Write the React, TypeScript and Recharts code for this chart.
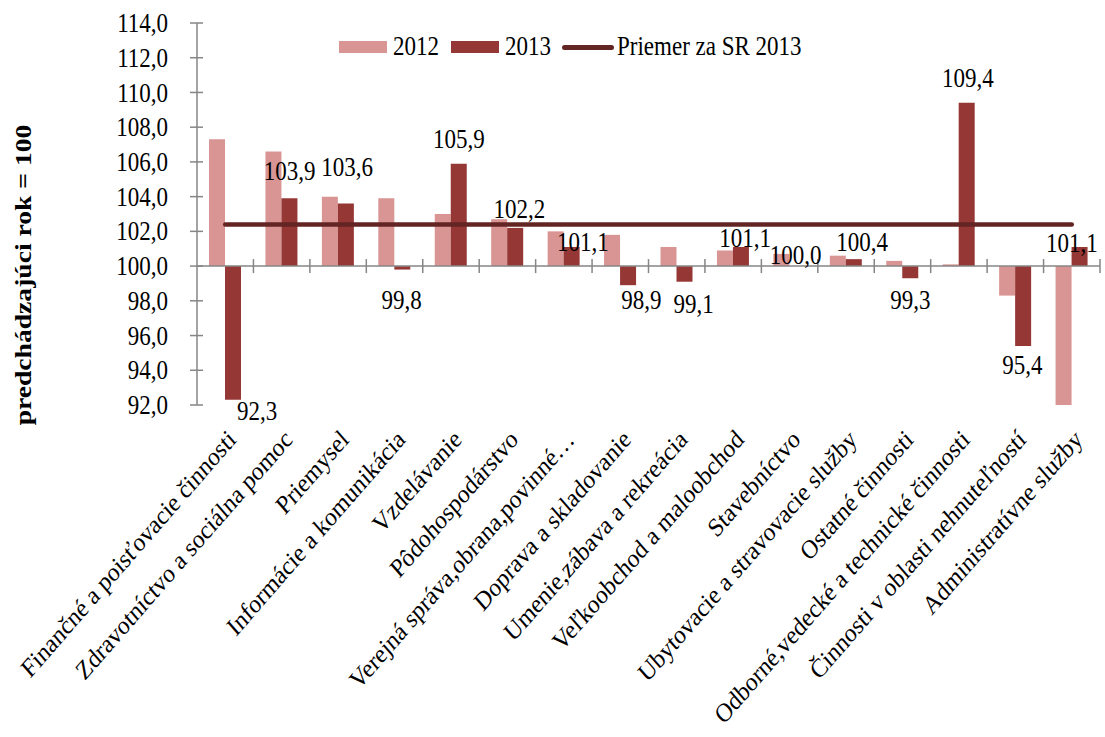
import React from 'react';
import {
  ComposedChart,
  Bar,
  Line,
  XAxis,
  YAxis,
  ReferenceLine,
  Legend,
  LabelList,
} from 'recharts';

const CATEGORIES = [
  'Finančné a poisťovacie činnosti',
  'Zdravotníctvo a sociálna pomoc',
  'Priemysel',
  'Informácie a komunikácia',
  'Vzdelávanie',
  'Pôdohospodárstvo',
  'Verejná správa,obrana,povinné…',
  'Doprava a skladovanie',
  'Umenie,zábava a rekreácia',
  'Veľkoobchod a maloobchod',
  'Stavebníctvo',
  'Ubytovacie a stravovacie služby',
  'Ostatné činnosti',
  'Odborné,vedecké a technické činnosti',
  'Činnosti v oblasti nehnuteľností',
  'Administratívne služby',
];

const VALUES_2012 = [
  107.3, 106.6, 104.0, 103.9, 103.0, 102.7, 102.0, 101.8, 101.1, 100.9, 100.7, 100.6, 100.3, 100.1,
  98.3, 91.9,
];

const VALUES_2013 = [
  92.3, 103.9, 103.6, 99.8, 105.9, 102.2, 101.1, 98.9, 99.1, 101.1, 100.0, 100.4, 99.3, 109.4, 95.4,
  101.1,
];

const PRIEMER_SR_2013 = [
  102.4, 102.4, 102.4, 102.4, 102.4, 102.4, 102.4, 102.4, 102.4, 102.4, 102.4, 102.4, 102.4, 102.4,
  102.4, 102.4,
];

const Y_TICKS = [92, 94, 96, 98, 100, 102, 104, 106, 108, 110, 112, 114];

// predchádzajúci rok = 100, bars start from here
const BASE = 100;

// hand placed data labels in the original (dx, dy)
const LABEL_NUDGES: [number, number][] = [
  [24, -9],
  [0, -7],
  [1, -17],
  [-1, 10],
  [0, -5],
  [4, 1],
  [11, 15],
  [13, -5],
  [9, 2],
  [4, 11],
  [-2, 9],
  [8, 3],
  [0, 2],
  [1, -5],
  [-1, -1],
  [-8, 16],
];

const FONT = '"Liberation Serif", "Times New Roman", serif';
const C2012 = '#D99594';
const C2013 = '#953735';
const CAVG = '#632523';
const AXIS_GRAY = '#868686';

const BAR_SIZE = 16;
const Y_TICK_SIZE = 7;
const Y_TICK_MARGIN = 22;
// the source picture is a little taller than the original chart, text looks stretched
const SY = 1.15;

const fmt = (v: number) => v.toFixed(1).replace('.', ',');
const place = (x: number, y: number, angle = 0) =>
  `translate(${x}, ${y}) scale(1, ${SY}) rotate(${angle})`;

const chartData = CATEGORIES.map((name, i) => ({
  name,
  y2012: [BASE, VALUES_2012[i]],
  y2013: [BASE, VALUES_2013[i]],
  v2013: VALUES_2013[i],
  priemer: PRIEMER_SR_2013[i],
}));

function YTick(props: any) {
  const { x, y, payload } = props;
  const axisX = x + Y_TICK_SIZE + Y_TICK_MARGIN;
  return (
    <g>
      <line x1={axisX - 7} x2={axisX + 6} y1={y} y2={y} stroke={AXIS_GRAY} strokeWidth={1.5} />
      <text
        transform={place(x, y)}
        textAnchor="end"
        dominantBaseline="central"
        fontFamily={FONT}
        fontSize={23}
        fill="#000"
      >
        {fmt(payload.value)}
      </text>
    </g>
  );
}

function XTick(props: any) {
  const { x, y, payload } = props;
  return (
    <text
      transform={place(x + 12, y + 36, -45)}
      textAnchor="end"
      fontFamily={FONT}
      fontSize={23}
      fill="#000"
    >
      {payload.value}
    </text>
  );
}

function BaseAxis(props: any) {
  const { x1, x2, y1 } = props;
  const left = Math.min(x1, x2);
  const right = Math.max(x1, x2);
  const step = (right - left) / CATEGORIES.length;
  return (
    <g>
      <line x1={left} x2={right} y1={y1} y2={y1} stroke={AXIS_GRAY} strokeWidth={1.5} />
      {CATEGORIES.map((_, i) => {
        const tx = left + step * (i + 1);
        return (
          <line
            key={i}
            x1={tx}
            x2={tx}
            y1={y1 - 7}
            y2={y1 + 7}
            stroke={AXIS_GRAY}
            strokeWidth={1.5}
          />
        );
      })}
    </g>
  );
}

// label sits on the invisible 2013 point line: x = category centre, y = bar end
function ValueLabel(props: any) {
  const { x, y, index } = props;
  const v = VALUES_2013[index];
  const up = v >= BASE;
  const [dx, dy] = LABEL_NUDGES[index];
  return (
    <text
      transform={place(x + BAR_SIZE / 2 + dx, y + (up ? -20 : 20) + dy)}
      textAnchor="middle"
      dominantBaseline="central"
      fontFamily={FONT}
      fontSize={23}
      fill="#000"
    >
      {fmt(v)}
    </text>
  );
}

function YTitle(props: any) {
  const vb = props.viewBox;
  return (
    <text
      transform={place(vb.x + 23, vb.y + vb.height / 2 + 61, -90)}
      textAnchor="middle"
      dominantBaseline="central"
      fontFamily={FONT}
      fontSize={24}
      fontWeight="bold"
      fill="#000"
    >
      predchádzajúci rok = 100
    </text>
  );
}

function LegendContent() {
  const txt = { display: 'inline-block', transform: `scaleY(${SY})` };
  return (
    <div
      style={{
        display: 'flex',
        alignItems: 'center',
        fontFamily: FONT,
        fontSize: 23,
        lineHeight: '26px',
        color: '#000',
        whiteSpace: 'nowrap',
      }}
    >
      <span style={{ width: 48, height: 12, background: C2012, marginRight: 6 }} />
      <span style={{ ...txt, marginRight: 12 }}>2012</span>
      <span style={{ width: 48, height: 12, background: C2013, marginRight: 6 }} />
      <span style={{ ...txt, marginRight: 11 }}>2013</span>
      <span style={{ width: 52, height: 5, background: CAVG, borderRadius: 3, marginRight: 3 }} />
      <span style={txt}>Priemer za SR 2013</span>
    </div>
  );
}

export default function App() {
  return (
    <div style={{ position: 'absolute', left: 0, top: 0, width: 1105, height: 737, background: '#fff' }}>
      <ComposedChart
        width={1105}
        height={737}
        data={chartData}
        margin={{ top: 23, right: 5, left: 0, bottom: 0 }}
        barGap={0}
      >
        <XAxis
          dataKey="name"
          interval={0}
          height={332}
          axisLine={false}
          tickLine={false}
          tickSize={0}
          tickMargin={0}
          tick={<XTick />}
        />
        <YAxis
          width={197}
          domain={[92, 114]}
          ticks={Y_TICKS}
          allowDataOverflow
          axisLine={{ stroke: AXIS_GRAY, strokeWidth: 1.5 }}
          tickLine={false}
          tickSize={Y_TICK_SIZE}
          tickMargin={Y_TICK_MARGIN}
          tick={<YTick />}
          label={{ content: <YTitle /> }}
        />
        <Legend
          layout="horizontal"
          verticalAlign="middle"
          align="center"
          wrapperStyle={{ top: 34, left: 339, width: 'auto' }}
          content={<LegendContent />}
        />
        <Bar dataKey="y2012" name="2012" fill={C2012} barSize={BAR_SIZE} isAnimationActive={false} />
        <Bar dataKey="y2013" name="2013" fill={C2013} barSize={BAR_SIZE} isAnimationActive={false} />
        <ReferenceLine y={BASE} shape={<BaseAxis />} />
        <Line
          dataKey="priemer"
          name="Priemer za SR 2013"
          stroke={CAVG}
          strokeWidth={4.5}
          strokeLinecap="round"
          dot={false}
          activeDot={false}
          isAnimationActive={false}
        />
        <Line
          dataKey="v2013"
          legendType="none"
          stroke="none"
          dot={false}
          activeDot={false}
          isAnimationActive={false}
        >
          <LabelList dataKey="v2013" content={<ValueLabel />} />
        </Line>
      </ComposedChart>
    </div>
  );
}
